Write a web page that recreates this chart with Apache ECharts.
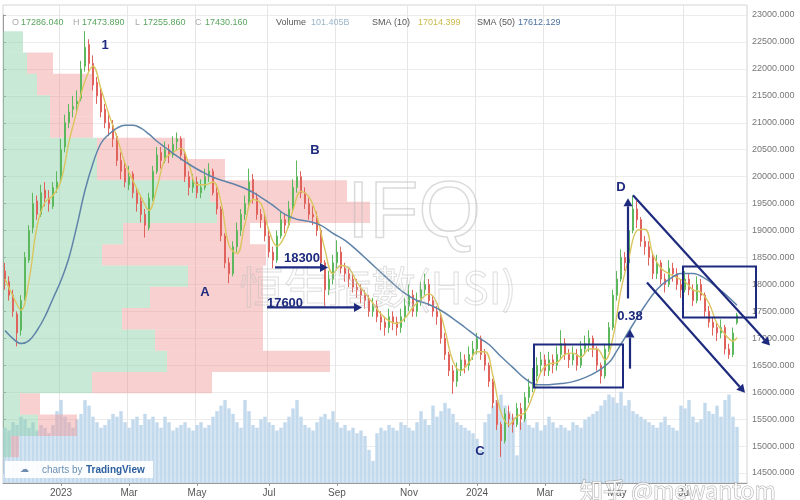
<!DOCTYPE html>
<html><head><meta charset="utf-8">
<script src="https://cdn.jsdelivr.net/npm/echarts@6/dist/echarts.min.js"></script>
<style>html,body{margin:0;padding:0;background:#fff}#c{width:800px;height:500px}</style>
</head><body><div id="c"></div>
<script>
// ---------- categories: trading sessions sampled twice a week (Tue / Fri) ----------
const dates = [];
(function () {
  let t = Date.UTC(2022, 10, 15);
  for (let k = 0; k < 184; k++) {
    dates.push(new Date(t).toISOString().slice(0, 10));
    t += (k % 2 === 0 ? 3 : 4) * 86400000;
  }
})();

// ---------- OHLC ----------
const open = [
18250,18050,17800,17450,17150,17750,18450,19050,19550,19300,
19750,19600,19450,19800,19950,20550,21000,21250,21350,21450,
22050,22450,22100,21750,21550,21250,21000,20950,20750,20300,
20150,19850,20050,19700,19550,19300,19050,19600,20100,20450,
20300,20500,20400,20650,20700,20400,20000,19800,19900,19700,
19800,20000,20100,19700,19400,18900,18400,18200,18700,19000,
19300,19500,19950,19600,19300,19200,18900,18600,18450,18900,
19200,19100,19400,19800,20000,19700,19500,19300,19250,19000,
18400,17900,18100,18400,18600,18300,18200,18100,17950,17900,
17800,17700,17500,17600,17400,17300,17200,17400,17300,17200,
17400,17600,17800,17500,17700,17900,18000,17700,17500,17400,
17000,16700,16400,16200,16400,16600,16500,16700,16800,17000,
16700,16500,16200,15800,15400,15100,15600,15500,15400,15700,
15500,15900,16100,16300,16500,16600,16400,16600,16500,16700,
16900,16700,16600,16700,16500,16800,16900,17000,16800,16500,
16300,16800,17200,17800,18100,18500,18400,19000,19400,19200,
18800,18700,18500,18200,18400,18100,18000,18300,18200,18000,
17900,18100,17900,17700,18000,17800,17500,17300,17200,17100,
17200,16800,16700,17286.04];
const close = [
18050,17800,17500,17100,17700,18500,19000,19500,19300,19700,
19600,19500,19800,19900,20500,21000,21200,21300,21400,22000,
22400,22100,21700,21500,21200,21000,20900,20700,20300,20100,
19900,20000,19700,19500,19300,19100,19600,20100,20400,20300,
20500,20400,20600,20700,20400,20000,19800,19900,19700,19800,
20000,20100,19700,19400,18900,18400,18200,18700,19000,19300,
19500,19900,19600,19300,19200,18900,18600,18450,18900,19200,
19100,19400,19800,20000,19700,19500,19300,19250,19000,18400,
17900,18100,18400,18600,18300,18200,18100,17950,17900,17800,
17700,17500,17600,17400,17300,17200,17400,17300,17200,17400,
17600,17800,17500,17700,17900,18000,17700,17500,17400,17000,
16700,16400,16200,16400,16600,16500,16700,16800,17000,16700,
16500,16200,15800,15400,15100,15600,15500,15400,15700,15500,
15900,16100,16300,16500,16600,16400,16600,16500,16700,16900,
16700,16600,16700,16500,16800,16900,17000,16800,16500,16300,
16800,17200,17800,18100,18500,18400,19000,19400,19200,18800,
18700,18500,18200,18400,18100,18000,18300,18200,18000,17900,
18100,17900,17700,18000,17800,17500,17300,17200,17100,17200,
16800,16700,17100,17430.16];
const low = [
17900,17700,17400,16850,17050,17700,18400,18950,19200,19250,
19450,19350,19400,19700,19900,20450,20900,21100,21200,21400,
21950,21950,21600,21350,21100,20900,20750,20550,20200,19950,
19800,19750,19600,19350,19150,18870,19000,19550,20050,20150,
20250,20250,20350,20500,20300,19900,19650,19700,19600,19600,
19750,19900,19650,19300,18800,18300,18020,18150,18600,18900,
19200,19450,19500,19200,19050,18800,18500,18300,18400,18850,
18950,19050,19350,19700,19600,19400,19200,19100,18900,18300,
17600,17800,18000,18300,18200,18050,17950,17850,17750,17650,
17550,17400,17400,17300,17150,17050,17100,17150,17050,17100,
17300,17500,17400,17400,17600,17800,17600,17400,17250,16900,
16600,16300,15970,16100,16300,16350,16400,16600,16700,16600,
16400,16100,15700,15300,14800,15050,15350,15250,15350,15300,
15450,15800,16000,16200,16350,16300,16300,16350,16400,16600,
16600,16450,16500,16400,16450,16700,16750,16650,16400,16160,
16250,16750,17150,17700,18050,18250,18350,18950,19050,18700,
18550,18350,18100,18100,18000,17850,17950,18050,17900,17750,
17850,17800,17600,17650,17700,17400,17200,17050,16950,17000,
16700,16620,16650,17255.86];
const high = [
18400,18150,17900,17500,17800,18600,19100,19700,19650,19850,
19900,19750,19900,20100,20700,21150,21350,21500,21600,22150,
22700,22550,22250,21850,21650,21350,21200,21050,20800,20450,
20300,20200,20100,19800,19650,19400,19700,20200,20550,20550,
20650,20600,20750,20820,20750,20450,20100,20050,20000,19950,
20150,20250,20150,19800,19450,18950,18500,18800,19150,19400,
19650,20150,20050,19700,19400,19300,19000,18700,19000,19350,
19300,19550,19950,20300,20100,19800,19600,19450,19350,19050,
18450,18250,18550,18820,18700,18400,18300,18200,18100,18000,
17900,17800,17750,17700,17500,17400,17550,17500,17400,17550,
17750,18000,17900,17850,18050,18200,18100,17800,17600,17450,
17100,16750,16500,16550,16750,16700,16850,16950,17100,17050,
16800,16550,16250,15850,15450,15700,15750,15600,15800,15800,
16000,16250,16450,16650,16750,16700,16750,16700,16850,17150,
17000,16800,16850,16800,16950,17050,17150,17050,16850,16550,
16900,17300,17900,18250,18650,18600,19150,19650,19550,19250,
18900,18800,18600,18550,18450,18200,18450,18400,18300,18100,
18250,18200,18000,18150,18100,17850,17600,17400,17300,17350,
17250,16900,17200,17473.89];
// volume (billions)
const volume = [
100,95,110,105,120,115,100,110,95,105,
100,90,105,130,150,120,110,100,115,125,
150,140,120,110,100,105,115,125,120,130,
110,100,115,120,105,125,115,120,110,100,
120,110,95,100,105,110,100,95,105,110,
100,105,120,130,140,150,135,125,110,100,
150,130,105,100,115,120,110,105,95,100,
110,120,135,150,120,105,100,95,110,120,
125,115,130,110,100,105,95,100,90,95,
85,60,40,90,100,95,105,100,95,110,
105,100,95,110,130,115,105,140,120,130,
145,135,125,110,105,100,95,90,80,60,
110,125,140,150,160,140,130,120,50,110,
115,105,100,110,95,105,120,110,100,105,
100,95,110,105,100,115,120,125,130,140,
150,160,155,145,165,140,150,130,125,120,
115,110,105,100,110,120,105,100,95,140,
135,150,120,110,115,145,130,125,140,120,
150,160,120,101.405];
// SMA(10) read at every second session (+ last)
const sma10 = [
18100,17780,17525,18075,19075,19525,19650,19925,20650,21225,
21775,22050,21625,21150,20725,20250,19925,19625,19375,19800,
20325,20450,20525,20225,19850,19850,19900,19525,18725,18575,
19125,19575,19500,19000,18710,18910,19375,19725,19625,19260,
18640,18200,18350,18300,18040,17840,17650,17450,17325,17275,
17375,17575,17725,17825,17650,17150,16575,16400,16550,16750,
16750,16300,15625,15400,15550,15625,15950,16375,16525,16550,
16700,16725,16650,16800,16800,16600,17025,17900,18500,19000,
19025,18550,18300,18200,18125,18050,17900,17850,17650,17275,
17075,16950,17014.399];
// SMA(50) read at sampled sessions
const sma50Idx = [0,2,4,6,8,10,12,14,16,18,20,22,24,26,28,30,32,34,36,38,40,43,46,49,52,55,58,61,64,67,70,73,76,79,82,85,88,91,94,97,100,103,106,109,112,115,118,121,124,127,130,133,136,139,142,145,148,151,153,155,157,160,163,166,169,172,175,178,181,183];
const sma50 = [17144,16995,16902,16958,17144,17404,17739,18074,18501,19096,19747,20249,20620,20788,20900,20955,20955,20899,20788,20657,20546,20379,20230,20100,19989,19914,19840,19747,19617,19468,19300,19207,19170,19096,18947,18817,18631,18427,18222,18018,17832,17702,17628,17516,17367,17200,17033,16884,16661,16456,16252,16140,16140,16159,16196,16270,16382,16549,16772,17014,17256,17609,17907,18092,18204,18204,18111,17944,17758,17612.129];
// visible-range volume profile rows
const rowLow  = [14794,15189,15584,15980,16375,16770,17165,17560,17956,18351,18746,19141,19536,19932,20327,20722,21117,21512,21908,22303];
const rowHigh = [15189,15584,15980,16375,16770,17165,17560,17956,18351,18746,19141,19536,19932,20327,20722,21117,21512,21908,22303,22698];
const rowUp   = [8,35,17,89,164,152,119,147,185,99,120,214,207,94,94,47,47,34,24,20];
const rowDown = [8,39,20,120,163,108,141,113,75,164,127,153,137,128,88,43,43,56,26,0];
// y-axis ticks
const yMin = 14500, yMax = 23000, yStep = 500;
// annotations [text, sessionIndex, price]
const annoLabels = [['1',25,22442],['B',77.5,20490],['A',50,17851],['C',118.75,14895],['D',154,19803],['18300',74.25,18483],['17600',70,17646],['0.38',156.25,17404]];
const annoArrows = [[67.5,18315,80.75,18315],[65.5,17572,89.25,17572],[155.75,17739,155.75,19598],[156.25,16437,156.25,17163],[157,19654,191.25,16865],[160.5,18037,185,15991]];
const annoBoxes = [[132.25,154.5,16884,16085],[169.5,187.75,18334,17386]];

const cats = dates.concat(['pad-1','pad-2']);
const monthNames = ['Jan','Feb','Mar','Apr','May','Jun','Jul','Aug','Sep','Oct','Nov','Dec'];
function isMark(idx) {
  if (idx <= 0 || idx >= dates.length) return false;
  const m = dates[idx].slice(5,7), pm = dates[idx-1].slice(5,7);
  return m !== pm && (+m) % 2 === 1;
}
const FONT = "'Liberation Sans', Arial, sans-serif";
const navy = '#1d2a7e';
const upC = '#5cb85c', dnC = '#e0625c';

const chart = echarts.init(document.getElementById('c'));
const candleData = open.map((o,i)=>[o, close[i], low[i], high[i]]);
const sma10Data = sma10.map((v,k)=>[dates[k < 92 ? 2*k : 183], v]);
const sma50Data = sma50.map((v,k)=>[dates[sma50Idx[k]], v]);
const profileData = rowLow.map((lo,k)=>[lo, rowHigh[k], rowUp[k], rowDown[k]]);

chart.setOption({
  animation: false,
  backgroundColor: '#fff',
  textStyle: { fontFamily: FONT },
  grid: [
    { left: 3, right: 53, top: 15, bottom: 27 },
    { left: 3, right: 53, top: 5, bottom: 17, show: true, borderColor: '#d4d4d4', borderWidth: 1 }
  ],
  xAxis: [
    { type: 'category', data: cats, gridIndex: 0, show: false },
    { type: 'category', data: cats, gridIndex: 1,
      axisLine: { lineStyle: { color: '#999' } },
      axisTick: { show: true, interval: (i)=>isMark(i), alignWithLabel: true, length: 3, lineStyle:{color:'#999'} },
      axisLabel: { interval: (i)=>isMark(i), color: '#555', fontSize: 10, margin: 5,
        formatter: (v)=>{ const m = +v.slice(5,7); return m === 1 ? v.slice(0,4) : monthNames[m-1]; } },
      splitLine: { show: true, interval: (i)=>isMark(i), lineStyle: { color: '#e6e6e6' } } },
    { type: 'value', gridIndex: 0, min: 0, max: 744, show: false, position: 'top' }
  ],
  yAxis: [
    { type: 'value', gridIndex: 0, position: 'right', min: yMin, max: yMax, interval: yStep,
      axisLine: { show: true, lineStyle: { color: '#999' } },
      axisTick: { show: true, length: 3, lineStyle: { color: '#999' } },
      axisLabel: { color: '#777', fontSize: 9, margin: 5, formatter: (v)=>v.toFixed(3) },
      splitLine: { show: true, lineStyle: { color: '#ececec' } } },
    { type: 'value', gridIndex: 1, min: 0, max: 865, show: false, splitLine: { show: false } }
  ],
  series: [
    { name: 'Volume', type: 'bar', xAxisIndex: 1, yAxisIndex: 1, data: volume, barWidth: '85%',
      itemStyle: { color: '#c3d9ec' }, z: 1, silent: true },
    { name: 'Profile', type: 'custom', xAxisIndex: 2, yAxisIndex: 0, data: profileData, z: 2, silent: true,
      encode: { x: 2, y: [0,1] },
      renderItem: (params, api) => {
        const lo = api.value(0), hi = api.value(1), up = api.value(2), dn = api.value(3);
        const p0 = api.coord([0, hi]), p1 = api.coord([up, lo]), p2 = api.coord([up + dn, lo]);
        return { type: 'group', children: [
          { type: 'rect', shape: { x: p0[0], y: p0[1], width: p1[0]-p0[0], height: p1[1]-p0[1] }, style: { fill: 'rgba(140,208,170,0.48)' } },
          { type: 'rect', shape: { x: p1[0], y: p0[1], width: p2[0]-p1[0], height: p1[1]-p0[1] }, style: { fill: 'rgba(242,150,150,0.45)' } }
        ]};
      } },
    { name: 'HSI', type: 'candlestick', xAxisIndex: 0, yAxisIndex: 0, data: candleData, barMaxWidth: 3, z: 5,
      itemStyle: { color: upC, color0: dnC, borderColor: upC, borderColor0: dnC, borderWidth: 1 },
      markLine: { silent: true, symbol: 'none', data: [{ yAxis: close[close.length-1] }],
        lineStyle: { opacity: 0 },
        label: { position: 'end', distance: 2, formatter: () => close[close.length-1].toFixed(3),
          backgroundColor: '#3f9f43', color: '#fff', fontSize: 9, padding: [2,3,2,3] } } },
    { name: 'SMA10', type: 'line', xAxisIndex: 0, yAxisIndex: 0, data: sma10Data, smooth: 0.4, showSymbol: false,
      lineStyle: { color: '#d9c660', width: 1.4 }, z: 6, silent: true },
    { name: 'SMA50', type: 'line', xAxisIndex: 0, yAxisIndex: 0, data: sma50Data, smooth: 0.4, showSymbol: false,
      lineStyle: { color: '#5f83a9', width: 1.5 }, z: 6, silent: true }
  ]
});

// ---------- overlay: header, watermarks, annotations (positions via chart scales) ----------
function px(i, v) {
  const a = chart.convertToPixel({ xAxisIndex: 0, yAxisIndex: 0 }, [0, v]);
  const b = chart.convertToPixel({ xAxisIndex: 0, yAxisIndex: 0 }, [1, v]);
  return [a[0] + (b[0]-a[0]) * i, a[1]];
}
const g = [];
function txt(x, y, s, color, size, weight, extra) {
  g.push(Object.assign({ type: 'text', x: x, y: y, z: 100,
    style: Object.assign({ text: s, fill: color, font: (weight||'normal') + ' ' + size + 'px ' + FONT, textVerticalAlign: 'middle' }, extra||{}) }));
}
// faint background watermark
txt(414, 215, 'IFQ', 'rgba(0,0,0,0)', 80, 'normal', { textAlign: 'center', stroke: 'rgba(190,190,190,0.55)', lineWidth: 1.5 });
txt(378, 287, '恒生指數(HSI)', 'rgba(0,0,0,0)', 44, 'normal', { textAlign: 'center', stroke: 'rgba(190,190,190,0.5)', lineWidth: 1, font: "44px 'Noto Sans CJK TC', sans-serif" });
// header legend
const last = close.length - 1;
const gv = '#5aa55e';
const hdr = [['O',12,'#aaa'],[open[last].toFixed(3),21,gv],['H',73,'#aaa'],[high[last].toFixed(3),82,gv],['L',135,'#aaa'],[low[last].toFixed(3),143,gv],['C',195,'#aaa'],[close[last].toFixed(3),205,gv],
  ['Volume',276,'#555'],[volume[last].toFixed(3)+'B',311,'#9cb6ca'],['SMA (10)',372,'#555'],[sma10[sma10.length-1].toFixed(3),418,'#cdbb4e'],['SMA (50)',477,'#555'],[sma50[sma50.length-1].toFixed(3),518,'#4a72a0']];
hdr.forEach(h => txt(h[1], 23, h[0], h[2], 9));
// TradingView badge
g.push({ type: 'rect', z: 99, shape: { x: 5, y: 461, width: 148, height: 17 }, style: { fill: 'rgba(255,255,255,0.92)' } });
txt(20, 470, '☁', '#6c8db0', 9);
txt(42, 470, 'charts by', '#6b8fb3', 10);
txt(86, 470, 'TradingView', '#2b5f9e', 10, 'bold');
// annotation boxes
annoBoxes.forEach(b => {
  const p1 = px(b[0], b[2]), p2 = px(b[1], b[3]);
  g.push({ type: 'rect', z: 100, shape: { x: p1[0], y: p1[1], width: p2[0]-p1[0], height: p2[1]-p1[1] },
    style: { fill: 'none', stroke: navy, lineWidth: 2 } });
});
// arrows
annoArrows.forEach(a => {
  const p1 = px(a[0], a[1]), p2 = px(a[2], a[3]);
  const dx = p2[0]-p1[0], dy = p2[1]-p1[1], L = Math.hypot(dx, dy), ux = dx/L, uy = dy/L;
  const hl = 8, hw = 4.5, bx = p2[0]-ux*hl, by = p2[1]-uy*hl;
  g.push({ type: 'line', z: 100, shape: { x1: p1[0], y1: p1[1], x2: bx, y2: by }, style: { stroke: navy, lineWidth: 2.2 } });
  g.push({ type: 'polygon', z: 100, shape: { points: [[p2[0],p2[1]],[bx-uy*hw, by+ux*hw],[bx+uy*hw, by-ux*hw]] }, style: { fill: navy } });
});
// annotation labels
annoLabels.forEach(l => {
  const p = px(l[1], l[2]);
  txt(p[0], p[1], l[0], navy, 13, 'bold', { textAlign: 'center' });
});
// bottom-right watermark
txt(580, 490, '知乎 @mewantom', 'rgba(255,255,255,0.85)', 23, 'normal', { stroke: 'rgba(150,150,150,0.8)', lineWidth: 1, font: "23px 'Noto Sans CJK SC', sans-serif" });
chart.setOption({ graphic: { elements: g } });
</script>
</body></html>
